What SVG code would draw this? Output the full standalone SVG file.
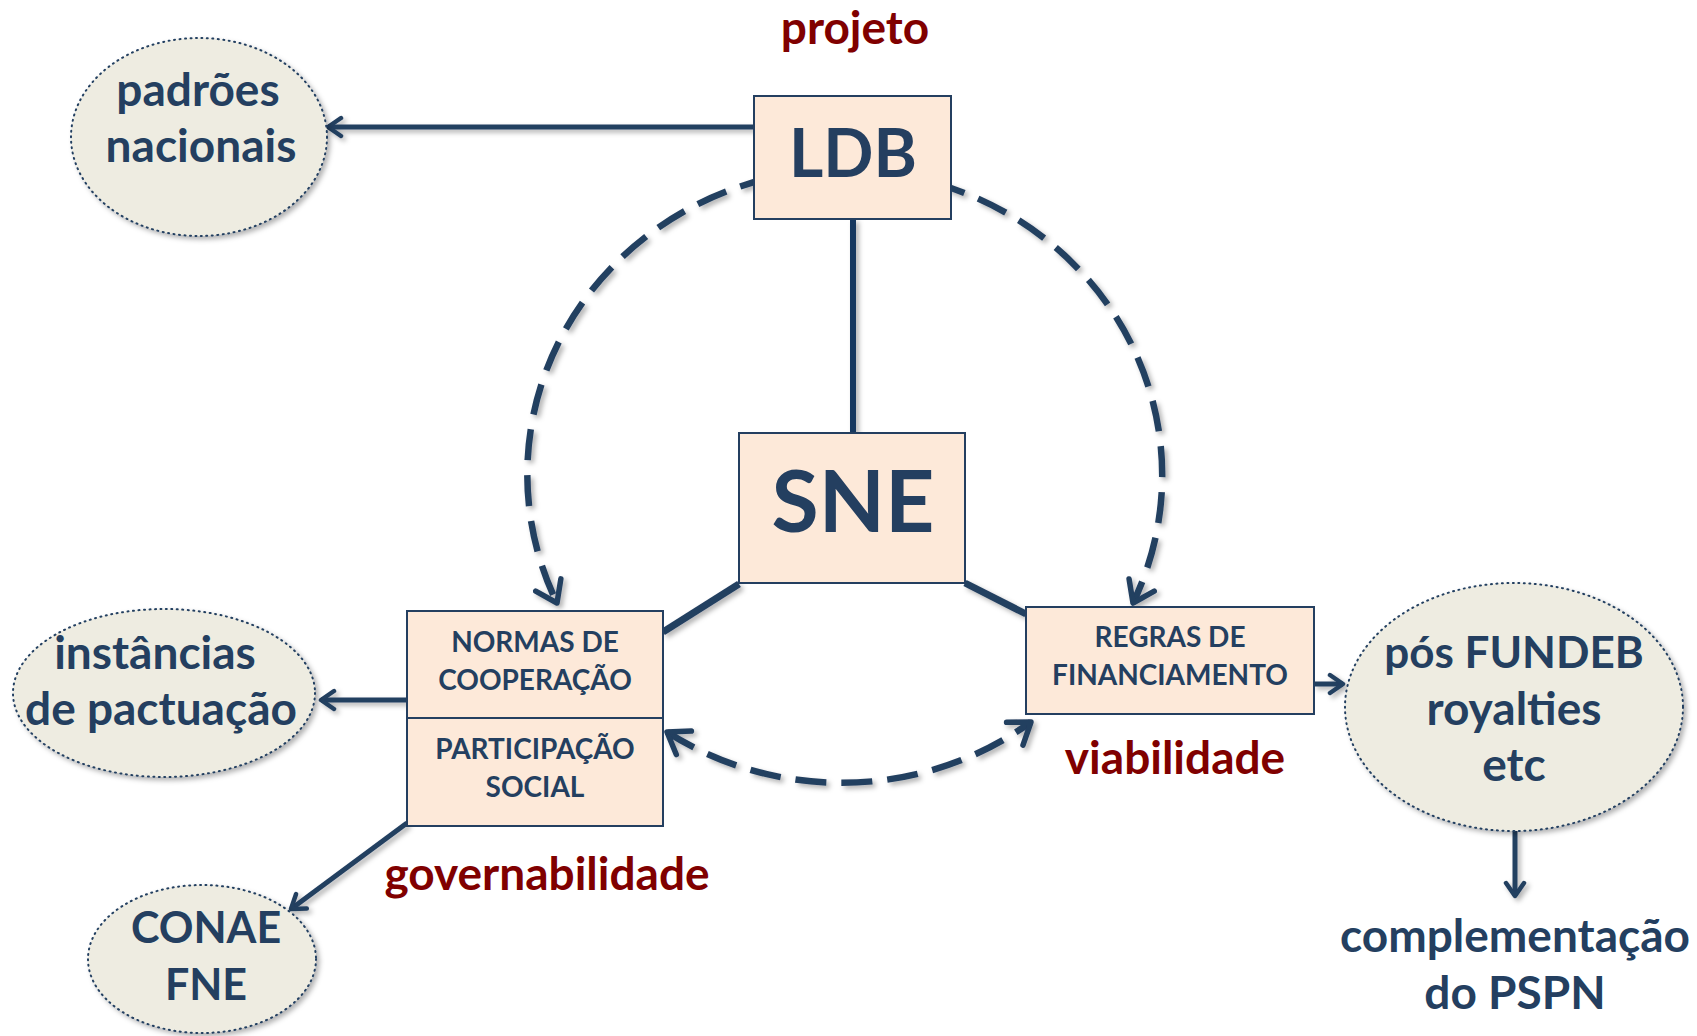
<svg xmlns="http://www.w3.org/2000/svg" width="1697" height="1036" viewBox="0 0 1697 1036">
<style>
text{font-family:Lato,"Open Sans","Liberation Sans",sans-serif;font-weight:bold;text-anchor:middle}
.nv{fill:#243F60}
.rd{fill:#800000;font-size:46px}
.big{font-size:46px}
.box{fill:#FDE9D9;stroke:#243F60;stroke-width:2}
.ell{fill:#EEECE1;stroke:#243F60;stroke-width:2;stroke-dasharray:1 4.5;stroke-linecap:round}
.bt{font-size:28px}
.ln{fill:none;stroke:#243F60;stroke-width:5}
.ds{fill:none;stroke:#243F60;stroke-width:6.5;stroke-dasharray:31 15}
</style>
<defs>
<filter id="sh" x="-20%" y="-20%" width="140%" height="140%">
<feDropShadow dx="3" dy="3" stdDeviation="2.5" flood-color="#000" flood-opacity="0.3"/>
</filter>
<marker id="a" viewBox="0 0 24 24" refX="21" refY="12" markerWidth="24" markerHeight="24" markerUnits="userSpaceOnUse" orient="auto-start-reverse">
<path d="M8,3 L21,12 L8,21" fill="none" stroke="#243F60" stroke-width="4.5" stroke-linecap="round" stroke-linejoin="round"/>
</marker>
<marker id="b" viewBox="0 0 34 34" refX="30" refY="17" markerWidth="34" markerHeight="34" markerUnits="userSpaceOnUse" orient="auto-start-reverse">
<path d="M10,3 L30,17 L10,31" fill="none" stroke="#243F60" stroke-width="5.5" stroke-linecap="round" stroke-linejoin="round"/>
</marker>
</defs>

<g id="connectors" filter="url(#sh)">
<path class="ds" d="M770,178 A318,305 0 0 0 557,603" marker-end="url(#b)"/>
<path class="ds" d="M935,183 A318,305 0 0 1 1133,603" marker-end="url(#b)"/>
<path class="ds" d="M667,732 A316,305 0 0 0 1031,722" marker-start="url(#b)" marker-end="url(#b)"/>
<line class="ln" x1="754" y1="127" x2="328" y2="127" marker-end="url(#a)"/>
<line class="ln" x1="853" y1="219" x2="853" y2="433" style="stroke:#17375E;stroke-width:6"/>
<line class="ln" x1="739" y1="584" x2="663" y2="632" style="stroke-width:7"/>
<line class="ln" x1="965" y1="583" x2="1026" y2="614" style="stroke-width:7"/>
<line class="ln" x1="407" y1="700" x2="321" y2="700" marker-end="url(#a)"/>
<line class="ln" x1="407" y1="823" x2="291" y2="909" marker-end="url(#a)"/>
<line class="ln" x1="1314" y1="684" x2="1343" y2="684" marker-end="url(#a)"/>
<line class="ln" x1="1515" y1="831" x2="1515" y2="896" marker-end="url(#a)"/>
</g>

<g id="ldb">
<rect class="box" x="754" y="96" width="197" height="123"/>
<text class="nv" x="853" y="177" style="font-size:66px">LDB</text>
</g>
<g id="projeto"><text class="rd" x="855" y="44">projeto</text></g>

<g id="sne">
<rect class="box" x="739" y="433" width="226" height="150"/>
<text class="nv" x="853" y="532" style="font-size:86px">SNE</text>
</g>

<g id="normas">
<rect class="box" x="407" y="611" width="256" height="215"/>
<line x1="407" y1="718" x2="663" y2="718" stroke="#243F60" stroke-width="2"/>
<text class="nv bt" x="535" y="652">NORMAS DE</text>
<text class="nv bt" x="535" y="690">COOPERAÇÃO</text>
<text class="nv bt" x="535" y="759">PARTICIPAÇÃO</text>
<text class="nv bt" x="535" y="797">SOCIAL</text>
</g>
<g id="governabilidade"><text class="rd" x="547" y="890">governabilidade</text></g>

<g id="regras">
<rect class="box" x="1026" y="607" width="288" height="107"/>
<text class="nv bt" x="1170" y="647">REGRAS DE</text>
<text class="nv bt" x="1170" y="685">FINANCIAMENTO</text>
</g>
<g id="viabilidade"><text class="rd" x="1175" y="774">viabilidade</text></g>

<g id="padroes">
<ellipse class="ell" cx="199" cy="137" rx="128" ry="99" filter="url(#sh)"/>
<text class="nv big" x="198" y="106">padrões</text>
<text class="nv big" x="201" y="162">nacionais</text>
</g>

<g id="instancias">
<ellipse class="ell" cx="164" cy="693" rx="151" ry="84" filter="url(#sh)"/>
<text class="nv big" x="155" y="669">instâncias</text>
<text class="nv big" x="161" y="725">de pactuação</text>
</g>

<g id="conae">
<ellipse class="ell" cx="202" cy="959" rx="114" ry="74" filter="url(#sh)"/>
<text class="nv" x="206" y="943" style="font-size:43px">CONAE</text>
<text class="nv" x="206" y="1000" style="font-size:43px">FNE</text>
</g>

<g id="fundeb">
<ellipse class="ell" cx="1514" cy="707" rx="169" ry="124" filter="url(#sh)"/>
<text class="nv" x="1514" y="668" style="font-size:44px">pós FUNDEB</text>
<text class="nv big" x="1514" y="725">royalties</text>
<text class="nv big" x="1514" y="781">etc</text>
</g>

<g id="pspn">
<text class="nv big" x="1515" y="952">complementação</text>
<text class="nv big" x="1515" y="1009">do PSPN</text>
</g>
</svg>
